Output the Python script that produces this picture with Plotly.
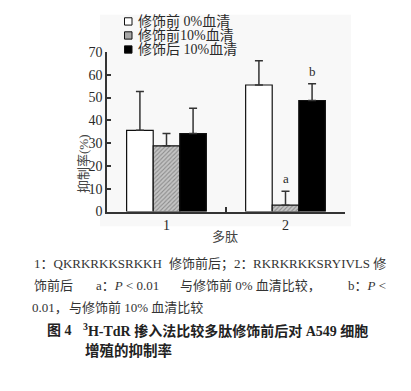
import plotly.graph_objects as go

# ---------------- data ----------------
categories = ["1", "2"]
series_names = ["修饰前 0%血清", "修饰前10%血清", "修饰后 10%血清"]
values_0pct_before = [35.6, 55.5]
values_10pct_before = [28.8, 2.8]
values_10pct_after = [34.2, 48.7]
err_0pct_before = [17.0, 10.6]
err_10pct_before = [5.4, 6.1]
err_10pct_after = [11.1, 7.3]
sig_marks = [(1, 1, "a"), (2, 1, "b")]  # (series index, category index, label)
y_ticks = [0, 10, 20, 30, 40, 50, 60, 70]
y_title = "抑制率(%)"
x_title = "多肽"
# caption segments: (text, line, anchor)
caption_segments = [
    ("1：QKRKRKKSRKKH", 0, "left"),
    ("修饰前后；2：", 0, "left"),
    ("RKRKRKKSRYIVLS 修", 0, "right"),
    ("饰前后", 1, "left"),
    ("a：<i>P</i> < 0.01", 1, "left"),
    ("与修饰前 0% 血清比较，", 1, "left"),
    ("b：<i>P</i> <", 1, "right"),
    ("0.01，", 2, "left"),
    ("与修饰前 10% 血清比较", 2, "left"),
]
fig_title_num = "图 4"
fig_title_l1 = "<sup>3</sup>H-TdR 掺入法比较多肽修饰前后对 A549 细胞"
fig_title_l2 = "增殖的抑制率"

values = [values_0pct_before, values_10pct_before, values_10pct_after]
errors = [err_0pct_before, err_10pct_before, err_10pct_after]

# ---------------- layout helpers ----------------
W, H = 411, 391
def px(x):
    return x / W
def py(y):
    return 1 - y / H

SERIF = "Liberation Serif, Noto Sans CJK SC, serif"
CJK = "Liberation Serif, Noto Sans CJK SC"
TXT = "#2a2a2a"

fills = ["#ffffff", "#bdbdbd", "#000000"]
bargap = 0.33
bw = (1 - bargap) / 3
xpos = [i + 1 for i in range(len(categories))]

fig = go.Figure()
for s in range(3):
    marker = dict(color=fills[s], line=dict(color="#111", width=1.2))
    if s == 1:
        marker["pattern"] = dict(shape="/", fgcolor="#8c8c8c", bgcolor="#c4c4c4",
                                 size=3, solidity=0.35, fillmode="replace")
    fig.add_trace(go.Bar(
        x=xpos, y=values[s], name=series_names[s], marker=marker,
        error_y=dict(type="data", array=errors[s], arrayminus=[0] * len(errors[s]),
                     symmetric=False, color="#333", thickness=1.5, width=4),
        showlegend=False,
    ))

annotations = []
for s, c, lab in sig_marks:
    annotations.append(dict(
        x=xpos[c] + (s - 1) * bw, y=values[s][c] + errors[s][c],
        xref="x", yref="y", text=lab, showarrow=False, yanchor="bottom", yshift=3,
        font=dict(family=SERIF, size=13, color=TXT)))

# manual legend
leg_rows = [15, 29.6, 44.2]
shapes = [dict(type="rect", xref="paper", yref="paper", x0=px(100), x1=px(351),
               y0=py(228), y1=py(8), fillcolor="#f8f8f8", line=dict(width=0), layer="below")]
for s in range(3):
    yc = leg_rows[s]
    shapes.append(dict(type="rect", xref="paper", yref="paper",
                       x0=px(124.5), x1=px(132), y0=py(yc + 3.8), y1=py(yc - 3.8),
                       fillcolor=fills[s] if s != 1 else "#a8a8a8",
                       line=dict(color="#111", width=1)))
    annotations.append(dict(x=px(136), y=py(yc), xref="paper", yref="paper",
                            text=series_names[s], showarrow=False, xanchor="left",
                            yanchor="middle", font=dict(family=CJK, size=14, color=TXT)))

# axis titles
annotations.append(dict(x=px(74), y=py(130), xref="paper", yref="paper", text=y_title,
                        textangle=-90, showarrow=False,
                        font=dict(family=CJK, size=13, color="#444")))
annotations.append(dict(x=px(225), y=py(239), xref="paper", yref="paper", text=x_title,
                        showarrow=False, font=dict(family=CJK, size=13, color="#444")))

# caption
line_y = [267, 290, 312]
seg_x = [32, 167, 388, 32, 94, 178, 388, 30, 67]
for (t, ln, anc), xx in zip(caption_segments, seg_x):
    annotations.append(dict(x=px(xx), y=py(line_y[ln]), xref="paper", yref="paper", text=t,
                            showarrow=False, xanchor=anc, yanchor="middle",
                            font=dict(family=CJK, size=13, color="#333")))
annotations.append(dict(x=px(45), y=py(336), xref="paper", yref="paper",
                        text="<b>" + fig_title_num + "</b>", showarrow=False,
                        xanchor="left", yanchor="middle",
                        font=dict(family=CJK, size=14, color="#222")))
annotations.append(dict(x=px(81), y=py(336), xref="paper", yref="paper",
                        text="<b>" + fig_title_l1 + "</b>", showarrow=False,
                        xanchor="left", yanchor="middle",
                        font=dict(family=CJK, size=14, color="#222")))
annotations.append(dict(x=px(83), y=py(357), xref="paper", yref="paper",
                        text="<b>" + fig_title_l2 + "</b>", showarrow=False,
                        xanchor="left", yanchor="middle",
                        font=dict(family=CJK, size=14.5, color="#222")))

xdom = [px(107), px(345)]
ydom = [py(212.7), py(46.7)]
fig.update_layout(
    width=W, height=H, margin=dict(l=0, r=0, t=0, b=0),
    paper_bgcolor="white", plot_bgcolor="rgba(0,0,0,0)",
    barmode="group", bargap=bargap, bargroupgap=0,
    xaxis=dict(domain=xdom, range=[0.5, 2.5], tickvals=xpos, ticktext=categories,
               ticks="", showline=True, linecolor="#333", linewidth=1.5,
               showgrid=False, zeroline=False,
               tickfont=dict(family=SERIF, size=14, color=TXT)),
    xaxis2=dict(domain=xdom, range=[0.5, 2.5], overlaying="x", anchor="y", side="bottom",
                tickvals=[1.5, 2.5], ticks="inside", ticklen=5, tickwidth=1.5,
                tickcolor="#333", showticklabels=False, showline=False,
                showgrid=False, zeroline=False),
    yaxis=dict(domain=ydom, range=[0, 70], tickvals=y_ticks, ticks="inside",
               ticklen=4, tickwidth=1.5, tickcolor="#333", showline=True,
               linecolor="#333", linewidth=1.5, showgrid=False, zeroline=False,
               tickfont=dict(family=SERIF, size=14, color=TXT)),
    shapes=shapes, annotations=annotations,
)
# invisible trace so that the boundary-tick axis is drawn
fig.add_trace(go.Scatter(x=[1.5], y=[0], xaxis="x2", mode="markers",
                         marker=dict(opacity=0), showlegend=False, hoverinfo="skip"))
fig.write_html("out.html")
